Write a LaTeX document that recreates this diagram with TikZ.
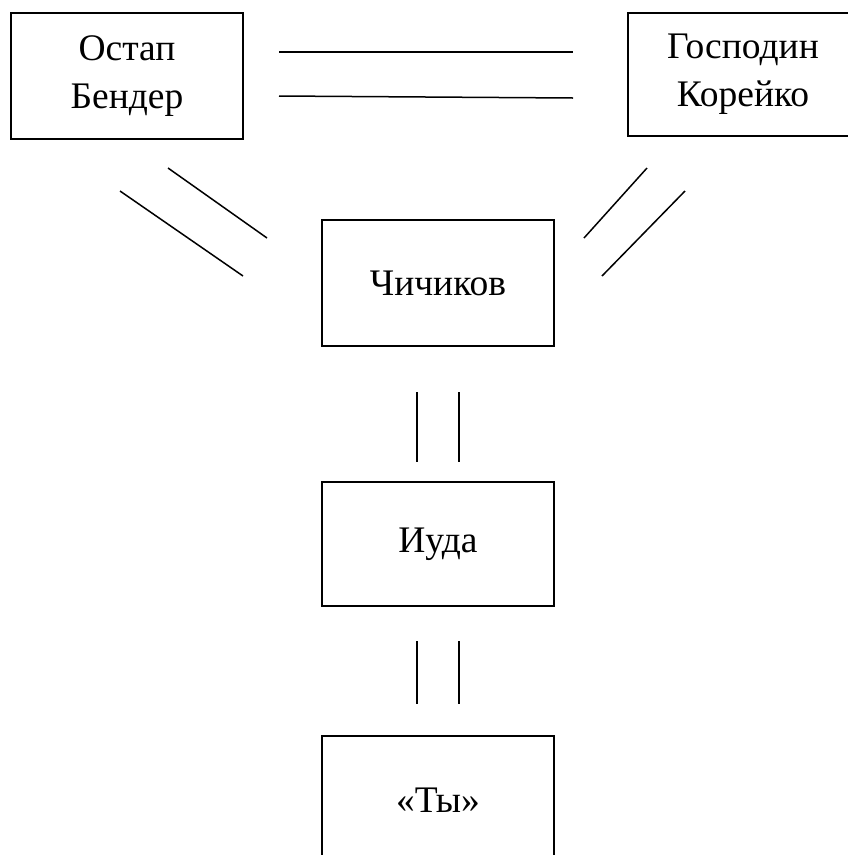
\documentclass[tikz,border=0pt]{standalone}
\usepackage{fontspec}
\setmainfont{Liberation Serif}
\begin{document}
\begin{tikzpicture}[x=1pt,y=-1pt,
  box/.style={draw=black, line width=1.5pt, rectangle, align=center, inner sep=0pt,
    font=\fontsize{37.5}{48}\selectfont},
  lbl/.style={align=center, inner sep=0pt, font=\fontsize{37.5}{48}\selectfont},
  link/.style={draw=black, line width=1.5pt}]
\useasboundingbox (0,0) rectangle (848,855);
\node[box, minimum width=232pt, minimum height=126pt] (ostap) at (127,76) {Остап\\Бендер};
\node[box, minimum width=260pt, minimum height=123pt] (koreiko) at (758,74.5) {};
\node[lbl] (koreikotext) at (743,74.5) {Господин\\Корейко};
\node[box, minimum width=232pt, minimum height=126pt] (chich) at (438,283) {Чичиков};
\node[box, minimum width=232pt, minimum height=124pt] (iuda) at (438,544) {Иуда};
\node[box, minimum width=232pt, minimum height=140pt] (ty) at (438,806) {};
\node[lbl] (tytext) at (438,800) {«Ты»};
% horizontal pair
\coordinate (h1a) at (279,52); \coordinate (h1b) at (573,52);
\coordinate (h2a) at (279,96); \coordinate (h2b) at (573,98);
\draw[link] (h1a) -- (h1b);
\draw[link] (h2a) -- (h2b);
% left diagonal pair
\coordinate (l1a) at (168,168); \coordinate (l1b) at (267,238);
\coordinate (l2a) at (120,191); \coordinate (l2b) at (243,276);
\draw[link] (l1a) -- (l1b);
\draw[link] (l2a) -- (l2b);
% right diagonal pair
\coordinate (r1a) at (647,168); \coordinate (r1b) at (584,238);
\coordinate (r2a) at (685,191); \coordinate (r2b) at (602,276);
\draw[link] (r1a) -- (r1b);
\draw[link] (r2a) -- (r2b);
% vertical pairs
\coordinate (v1a) at (417,392); \coordinate (v1b) at (417,462);
\coordinate (v2a) at (459,392); \coordinate (v2b) at (459,462);
\draw[link] (v1a) -- (v1b);
\draw[link] (v2a) -- (v2b);
\coordinate (v3a) at (417,641); \coordinate (v3b) at (417,704);
\coordinate (v4a) at (459,641); \coordinate (v4b) at (459,704);
\draw[link] (v3a) -- (v3b);
\draw[link] (v4a) -- (v4b);
\end{tikzpicture}
\end{document}
